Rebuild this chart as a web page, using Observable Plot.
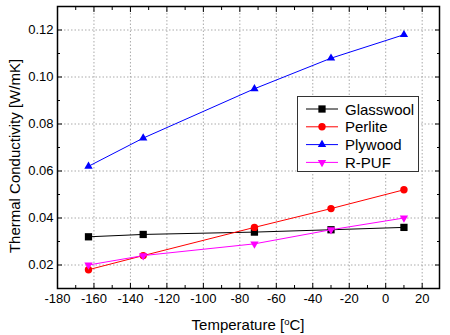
<!DOCTYPE html>
<html><head><meta charset="utf-8">
<script src="https://cdn.jsdelivr.net/npm/d3@7"></script>
<script src="https://cdn.jsdelivr.net/npm/@observablehq/plot@0.6"></script>
<style>
body{margin:0;background:#fff;}
#wrap{position:relative;width:450px;height:335px;font-family:Arial,"Liberation Sans",sans-serif;}
#wrap svg{display:block}
#legend{position:absolute;left:297px;top:96px;}
</style></head><body><div id="wrap"></div>
<script>
const temperatures = [-163, -133, -72, -30, 10];
const seriesNames = ["Glasswool", "Perlite", "Plywood", "R-PUF"];
const glasswool = [0.032, 0.033, 0.034, 0.035, 0.036];
const perlite = [0.018, 0.024, 0.036, 0.044, 0.052];
const plywood = [0.062, 0.074, 0.095, 0.108, 0.118];
const rpuf = [0.020, 0.024, 0.029, 0.035, 0.040];
const seriesColors = ["#000000", "#ff0000", "#0000ff", "#ff00ff"];
const xTicks = [-180, -160, -140, -120, -100, -80, -60, -40, -20, 0, 20];
const xMinor = [-170, -150, -130, -110, -90, -70, -50, -30, -10, 10];
const yTicks = [0.02, 0.04, 0.06, 0.08, 0.10, 0.12];
const yMinor = [0.03, 0.05, 0.07, 0.09, 0.11];
const xTitle = "Temperature [";
const xTitleSup = "o";
const xTitleEnd = "C]";
const yTitle = "Thermal Conductivity [W/mK]";

const triangleDown = {
  draw(context, size) {
    const y = -Math.sqrt(size / (Math.sqrt(3) * 3));
    context.moveTo(0, -y * 2);
    context.lineTo(-Math.sqrt(3) * y, y);
    context.lineTo(Math.sqrt(3) * y, y);
    context.closePath();
  }
};
const seriesValues = [glasswool, perlite, plywood, rpuf];
const seriesSymbols = ["square", "circle", "triangle", triangleDown];
const seriesR = [4.1, 3.7, 3.1, 3.1];

const seriesMarks = [];
seriesValues.forEach((vals, s) => {
  const data = temperatures.map((t, i) => ({t, v: vals[i]}));
  seriesMarks.push(Plot.line(data, {x: "t", y: "v", stroke: seriesColors[s], strokeWidth: 1}));
  seriesMarks.push(Plot.dot(data, {x: "t", y: "v", symbol: seriesSymbols[s], r: seriesR[s], fill: seriesColors[s], stroke: "none"}));
});

const fmtX = d => String(d);
const fmtY = d3.format(".2f");

const chart = Plot.plot({
  width: 450, height: 335,
  marginLeft: 57, marginRight: 11, marginTop: 6, marginBottom: 47,
  x: {domain: [-180, 29.5]},
  y: {domain: [0.01, 0.13]},
  style: {fontFamily: 'Arial, "Liberation Sans", sans-serif', fontSize: "13px", color: "black", background: "white"},
  marks: [
    Plot.gridX(xTicks, {stroke: "#aaaaaa", strokeOpacity: 1, strokeDasharray: "1.5,2"}),
    Plot.gridY(yTicks, {stroke: "#aaaaaa", strokeOpacity: 1, strokeDasharray: "1.5,2"}),
    ...seriesMarks,
    Plot.axisX(xTicks, {anchor: "bottom", tickSize: 0, tickPadding: 5, tickFormat: fmtX, label: null, fontSize: 13}),
    Plot.axisX(xTicks, {anchor: "bottom", tickSize: 5, dy: -5, fill: "none", label: null}),
    Plot.axisX(xMinor, {anchor: "bottom", tickSize: 3, dy: -3, fill: "none", label: null}),
    Plot.axisX(xTicks, {anchor: "top", tickSize: 5, dy: 5, fill: "none", label: null}),
    Plot.axisX(xMinor, {anchor: "top", tickSize: 3, dy: 3, fill: "none", label: null}),
    Plot.axisY(yTicks, {anchor: "left", tickSize: 0, tickPadding: 4, tickFormat: fmtY, label: null, fontSize: 13}),
    Plot.axisY(yTicks, {anchor: "left", tickSize: 5, dx: 5, fill: "none", label: null}),
    Plot.axisY(yMinor, {anchor: "left", tickSize: 3, dx: 3, fill: "none", label: null}),
    Plot.axisY(yTicks, {anchor: "right", tickSize: 5, dx: -5, fill: "none", label: null}),
    Plot.axisY(yMinor, {anchor: "right", tickSize: 3, dx: -3, fill: "none", label: null}),
    Plot.frame({stroke: "black", strokeWidth: 1.5})
  ]
});

const svg = d3.select(chart);
svg.append("text")
  .attr("transform", "translate(14,156) rotate(-90)")
  .attr("text-anchor", "middle")
  .attr("dominant-baseline", "central")
  .attr("font-size", 15)
  .attr("fill", "black")
  .text(yTitle);
const xt = svg.append("text")
  .attr("x", 248).attr("y", 330)
  .attr("text-anchor", "middle")
  .attr("font-size", 15)
  .attr("fill", "black");
xt.append("tspan").text(xTitle);
xt.append("tspan").attr("dy", -5).attr("font-size", 9.5).text(xTitleSup);
xt.append("tspan").attr("dy", 5).text(xTitleEnd);

const wrap = document.getElementById("wrap");
wrap.appendChild(chart);

const lg = d3.select(wrap).append("svg").attr("id", "legend").attr("width", 123).attr("height", 77);
lg.append("rect").attr("x", 0.5).attr("y", 0.5).attr("width", 121).attr("height", 75)
  .attr("fill", "white").attr("stroke", "#333").attr("stroke-width", 1);
const d3Sym = {square: d3.symbolSquare, circle: d3.symbolCircle, triangle: d3.symbolTriangle};
seriesNames.forEach((name, s) => {
  const y = 13 + s * 17.8;
  lg.append("line").attr("x1", 9).attr("x2", 41).attr("y1", y).attr("y2", y)
    .attr("stroke", seriesColors[s]).attr("stroke-width", 1);
  const type = typeof seriesSymbols[s] === "string" ? d3Sym[seriesSymbols[s]] : seriesSymbols[s];
  lg.append("path").attr("transform", `translate(25,${y})`)
    .attr("d", d3.symbol(type, seriesR[s] * seriesR[s] * Math.PI)())
    .attr("fill", seriesColors[s]);
  lg.append("text").attr("x", 48).attr("y", y).attr("dominant-baseline", "central")
    .attr("font-size", 15).attr("fill", "black").text(name);
});
</script></body></html>
